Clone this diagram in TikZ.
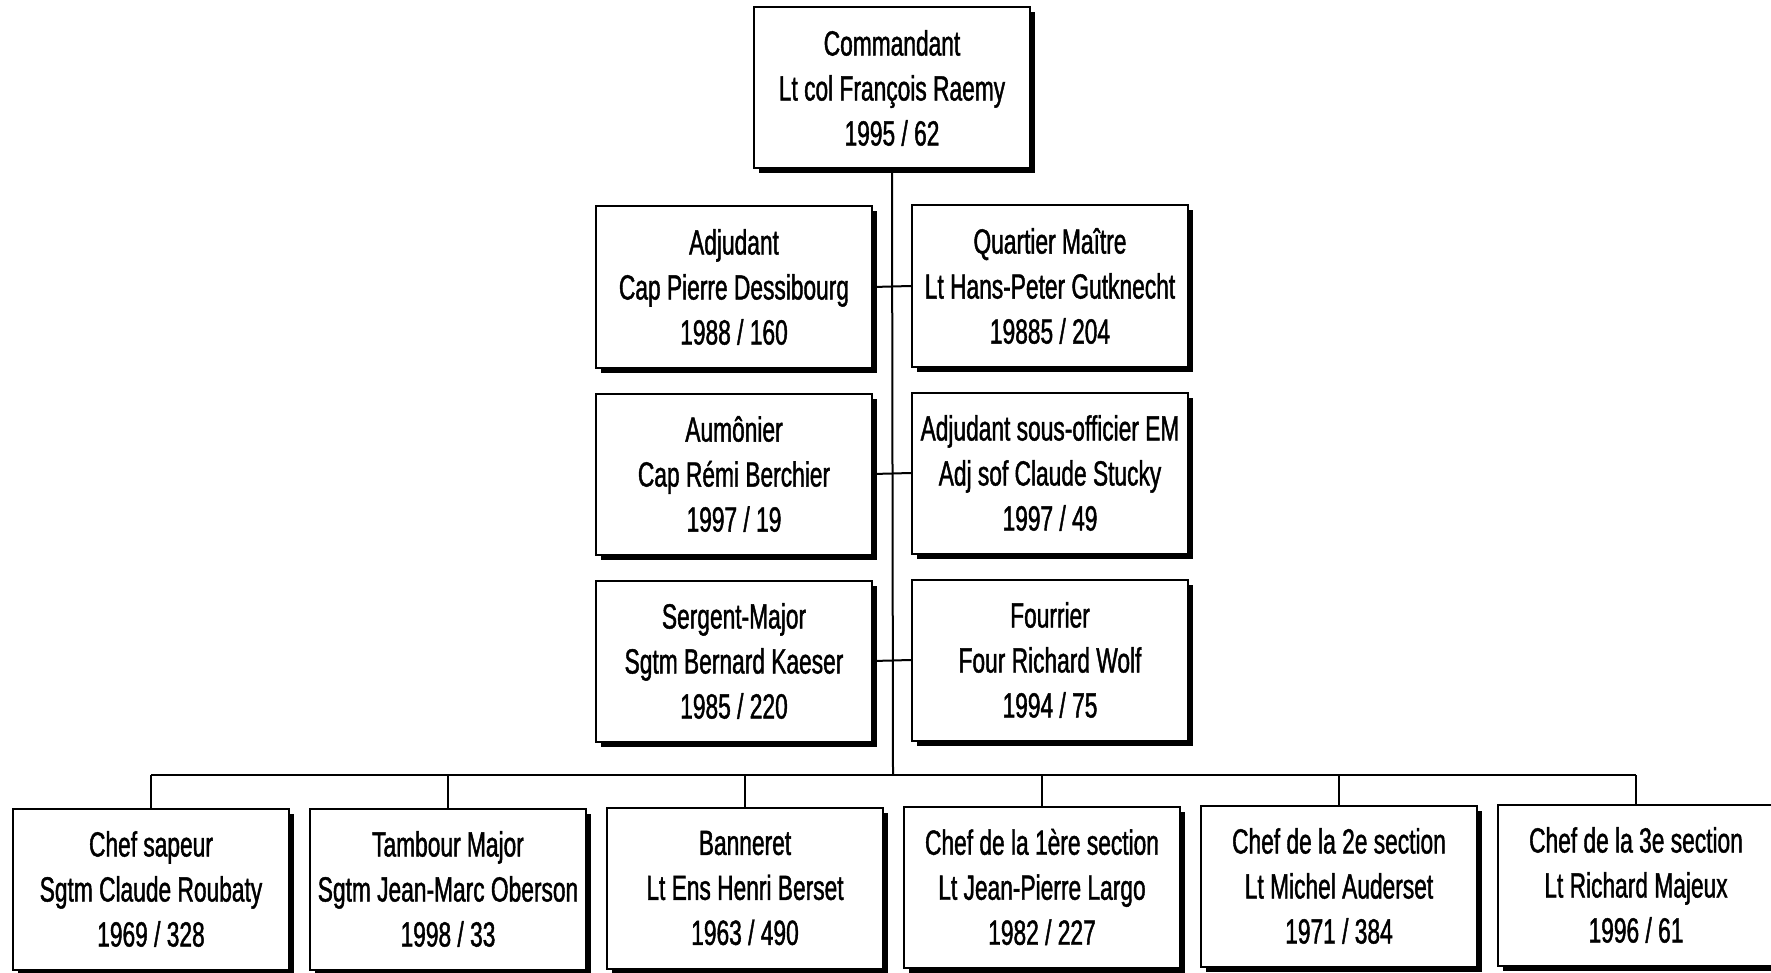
\documentclass[tikz,border=0pt]{standalone}
\usepackage{fontspec}
\setmainfont[FakeStretch=0.65,FakeBold=1.2]{Liberation Sans}
\usetikzlibrary{shadows}
\begin{document}
\begin{tikzpicture}[x=1pt,y=-1pt,
  post/.style={draw=black, line width=2pt, fill=white, align=center,
    minimum width=276pt, minimum height=161pt, inner sep=0pt,
    font=\fontsize{35}{45}\selectfont,
    drop shadow={shadow xshift=5pt, shadow yshift=-5pt, fill=black, opacity=1}},
  link/.style={draw=black, line width=2pt}]
\useasboundingbox (0,0) rectangle (1771,973);
\clip (0,0) rectangle (1771,973);
% commandant
\node [post] (cmd) at (892,88) {Commandant\\Lt col François Raemy\\1995 / 62};
% staff
\node [post] (adj) at (734,287) {Adjudant\\Cap Pierre Dessibourg\\1988 / 160};
\node [post] (qm) at (1050,286) {Quartier Maître\\Lt Hans-Peter Gutknecht\\19885 / 204};
\node [post] (aum) at (734,474) {Aumônier\\Cap Rémi Berchier\\1997 / 19};
\node [post] (adjsof) at (1050,473) {Adjudant sous-officier EM\\Adj sof Claude Stucky\\1997 / 49};
\node [post] (sgtm) at (734,661) {Sergent-Major\\Sgtm Bernard Kaeser\\1985 / 220};
\node [post] (four) at (1050,660) {Fourrier\\Four Richard Wolf\\1994 / 75};
% chefs
\node [post] (sap) at (151,889) {Chef sapeur\\Sgtm Claude Roubaty\\1969 / 328};
\node [post] (tamb) at (448,889) {Tambour Major\\Sgtm Jean-Marc Oberson\\1998 / 33};
\node [post] (bann) at (745,888) {Banneret\\Lt Ens Henri Berset\\1963 / 490};
\node [post] (sec1) at (1042,887) {Chef de la 1ère section\\Lt Jean-Pierre Largo\\1982 / 227};
\node [post] (sec2) at (1339,886) {Chef de la 2e section\\Lt Michel Auderset\\1971 / 384};
\node [post] (sec3) at (1636,885) {Chef de la 3e section\\Lt Richard Majeux\\1996 / 61};
\coordinate (bus) at (893,775);
% connectors
\draw [link] (cmd.south) -- (bus);
\draw [link] (adj.east) -- (qm.west);
\draw [link] (aum.east) -- (adjsof.west);
\draw [link] (sgtm.east) -- (four.west);
\draw [link] (sap.north |- bus) -- (sec3.north |- bus);
\foreach \n in {sap,tamb,bann,sec1,sec2,sec3}
  \draw [link] (\n.north |- bus) -- (\n.north);
\end{tikzpicture}
\end{document}
